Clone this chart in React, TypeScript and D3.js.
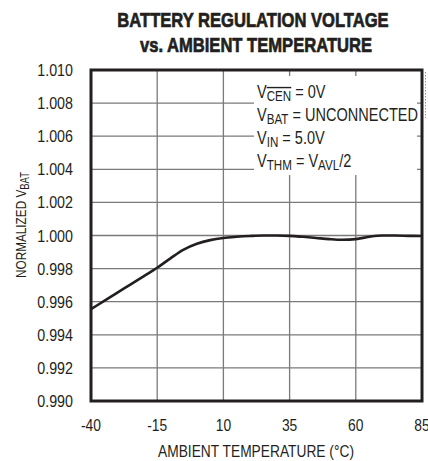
import React from "react"
import * as d3 from "d3"

// temperature (°C) and normalized VBAT
const temps = [-40, -35, -30, -25, -20, -15, -10, -5, 0, 5, 10, 15, 20, 25, 30, 35, 40, 45, 50, 55, 60, 65, 70, 75, 80, 85]
const vbat = [
  0.99555, 0.99605, 0.99655, 0.99705, 0.99755, 0.99805, 0.99862, 0.99915, 0.9995, 0.99972,
  0.99985, 0.99992, 0.99997, 1.0, 1.0, 0.99998, 0.99992, 0.99985, 0.99978, 0.99974,
  0.99978, 0.99992, 1.0, 1.0, 0.99998, 0.99997,
]
const xTicks = [-40, -15, 10, 35, 60, 85]
const yTicks = [0.99, 0.992, 0.994, 0.996, 0.998, 1.0, 1.002, 1.004, 1.006, 1.008, 1.01]

const FONT = "'Liberation Sans', Arial, sans-serif"
const INK = "#231f20"

// narrow text: draw Liberation Sans squeezed horizontally
function NText(props: {
  x: number
  y: number
  s: number
  size: number
  anchor?: string
  bold?: boolean
  rotate?: number
  children: React.ReactNode
}) {
  const { x, y, s, size, anchor = "start", bold, rotate = 0, children } = props
  return (
    <text
      transform={`translate(${x},${y}) rotate(${rotate}) scale(${s},1)`}
      textAnchor={anchor}
      fontSize={size}
      fontWeight={bold ? "bold" : "normal"}
      fill={INK}
      stroke={bold ? INK : "none"}
      strokeWidth={bold ? 0.7 : 0}
    >
      {children}
    </text>
  )
}

export default function App() {
  const W = 428
  const H = 461
  const margin = { top: 70, right: 6, bottom: 60, left: 91 }
  const x = d3.scaleLinear().domain([-40, 85]).range([margin.left, W - margin.right])
  const y = d3.scaleLinear().domain([0.99, 1.01]).range([H - margin.bottom, margin.top])

  const line = d3
    .line<number>()
    .x((_, i) => x(temps[i]))
    .y((d) => y(d))
    .curve(d3.curveMonotoneX)

  const x0 = x(-40)
  const x1 = x(85)
  const y0 = y(0.99)
  const y1 = y(1.01)

  const legend = { x: 254, y: 76, w: 163, h: 99 }
  const lx = 257
  const ls = 0.83
  const lsize = 17.5
  const sub = { fontSize: 14, dy: 3 }

  return (
    <svg
      width={W}
      height={H}
      style={{ position: "absolute", left: 0, top: 0, background: "#fff" }}
      fontFamily={FONT}
    >
      {/* title */}
      <NText x={253} y={27} s={0.79} size={21} anchor="middle" bold>
        BATTERY REGULATION VOLTAGE
      </NText>
      <NText x={256} y={52} s={0.79} size={21} anchor="middle" bold>
        vs. AMBIENT TEMPERATURE
      </NText>

      {/* grid */}
      <g stroke="#7a7a7a" strokeWidth={1.3}>
        {yTicks.slice(1, -1).map((t) => (
          <line key={"h" + t} x1={x0} x2={x1} y1={y(t)} y2={y(t)} />
        ))}
        {xTicks.slice(1, -1).map((t) => (
          <line key={"v" + t} x1={x(t)} x2={x(t)} y1={y0} y2={y1} />
        ))}
      </g>

      {/* legend box */}
      <rect x={legend.x} y={legend.y} width={legend.w} height={legend.h} fill="#fff" />

      {/* curve */}
      <path d={line(vbat) ?? ""} fill="none" stroke={INK} strokeWidth={2.6} strokeLinejoin="round" />

      {/* frame */}
      <rect x={x0} y={y1} width={x1 - x0} height={y0 - y1} fill="none" stroke={INK} strokeWidth={3} />

      {/* y tick labels */}
      {yTicks.map((t) => (
        <NText key={"yl" + t} x={73} y={y(t) + 6} s={0.84} size={17} anchor="end">
          {d3.format(".3f")(t)}
        </NText>
      ))}

      {/* x tick labels */}
      {xTicks.map((t) => (
        <NText key={"xl" + t} x={x(t)} y={431} s={0.84} size={16.5} anchor="middle">
          {t}
        </NText>
      ))}

      {/* axis titles */}
      <NText x={256} y={457} s={0.835} size={16.5} anchor="middle">
        AMBIENT TEMPERATURE (°C)
      </NText>
      <NText x={26} y={225} s={0.76} size={15.5} anchor="middle" rotate={-90}>
        NORMALIZED V
        <tspan fontSize={12.5} dy={3}>BAT</tspan>
      </NText>

      {/* legend text */}
      <NText x={lx} y={98} s={ls} size={lsize}>
        V
        <tspan fontSize={sub.fontSize} dy={sub.dy} textDecoration="overline">CEN</tspan>
        <tspan dy={-sub.dy}> = 0V</tspan>
      </NText>
      <NText x={lx} y={121} s={ls} size={lsize}>
        V
        <tspan fontSize={sub.fontSize} dy={sub.dy}>BAT</tspan>
        <tspan dy={-sub.dy}> = UNCONNECTED</tspan>
      </NText>
      <NText x={lx} y={144} s={ls} size={lsize}>
        V
        <tspan fontSize={sub.fontSize} dy={sub.dy}>IN</tspan>
        <tspan dy={-sub.dy}> = 5.0V</tspan>
      </NText>
      <NText x={lx} y={167} s={ls} size={lsize}>
        V
        <tspan fontSize={sub.fontSize} dy={sub.dy}>THM</tspan>
        <tspan dy={-sub.dy}> = V</tspan>
        <tspan fontSize={sub.fontSize} dy={sub.dy}>AVL</tspan>
        <tspan dy={-sub.dy}>/2</tspan>
      </NText>

      {/* faint scan mark at right edge */}
      <line x1={425.5} x2={425.5} y1={72} y2={118} stroke="#999" strokeWidth={1} strokeDasharray="1.5,1.5" />
    </svg>
  )
}
